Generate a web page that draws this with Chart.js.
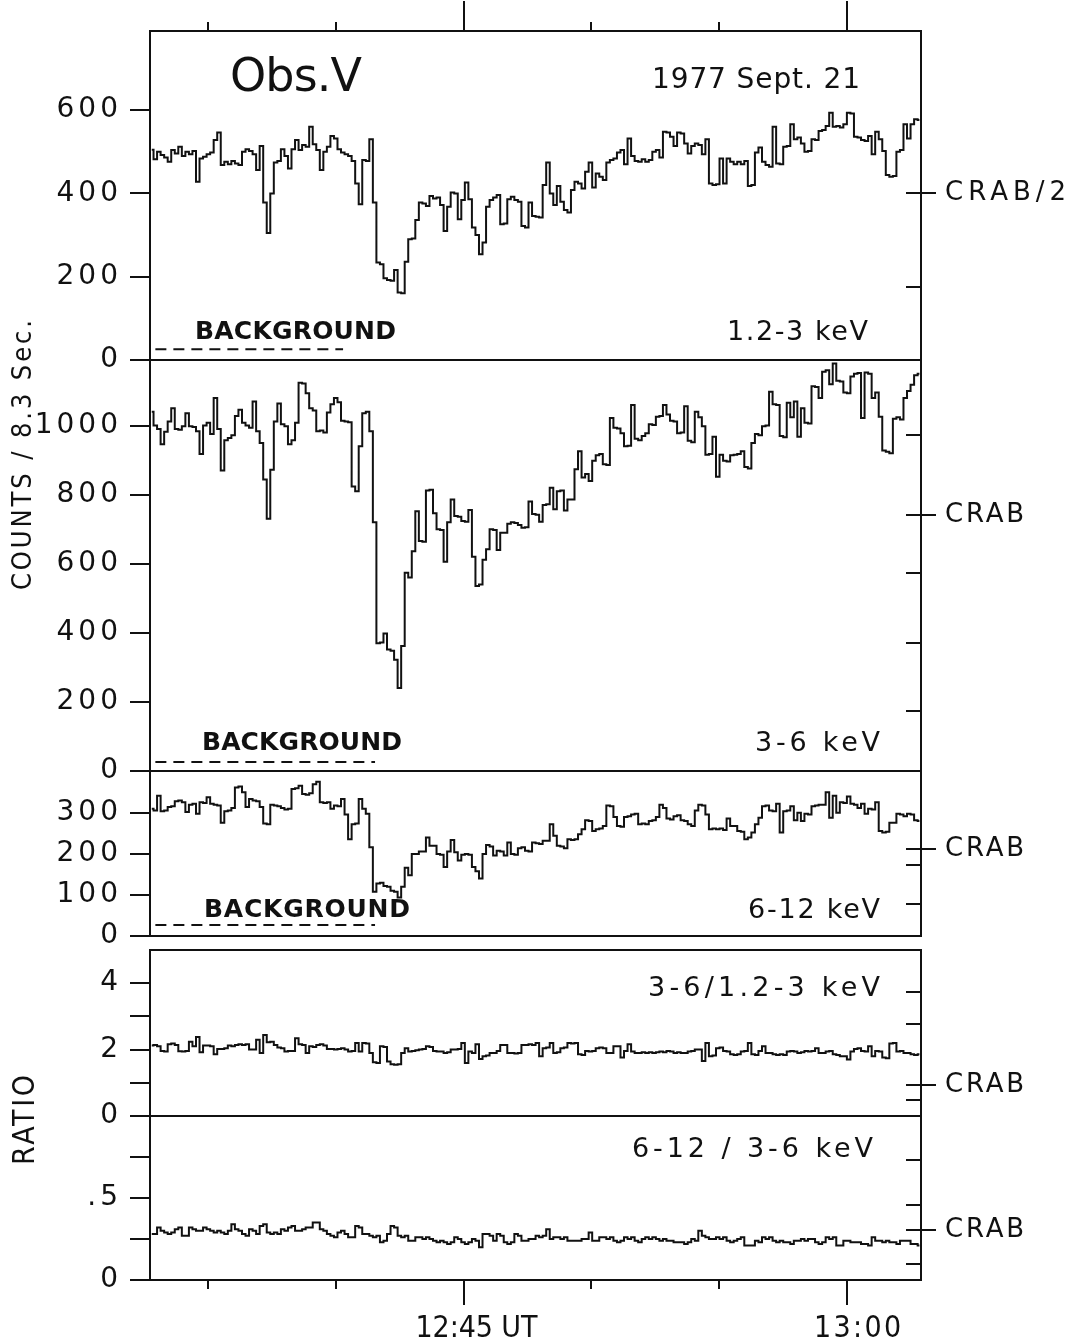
<!DOCTYPE html>
<html>
<head>
<meta charset="utf-8">
<script src="https://cdn.jsdelivr.net/npm/chart.js@4.4.1/dist/chart.umd.min.js"></script>
<style>
  html, body { margin: 0; background: #fff; }
  #wrap { position: relative; width: 1075px; height: 1341px; background: #fff; }
  #wrap canvas { position: absolute; left: 0; top: 0; }
</style>
</head>
<body>
<div id="wrap">
  <canvas id="p1" width="1075" height="1341"></canvas>
  <canvas id="p2" width="1075" height="1341"></canvas>
  <canvas id="p3" width="1075" height="1341"></canvas>
  <canvas id="p4" width="1075" height="1341"></canvas>
  <canvas id="p5" width="1075" height="1341"></canvas>
</div>
<script>
// time axis: minutes after 12:00 UT, one bin = 8.3 s
const X_MIN = 32.74, X_MAX = 62.89;
const BIN_MIN = 8.3 / 60;
const timeTicks = [35, 40, 45, 50, 55, 60];
const timeLabels = ['', '', '12:45 UT', '', '', '13:00'];

// counts / 8.3 s, 1.2-3 keV
const counts12 = [
  505,482,500,492,486,476,504,496,512,490, 500,494,502,428,484,488,494,498,528,546,
  468,476,470,478,472,468,500,506,502,494, 456,514,378,305,400,474,478,506,490,460,
  506,528,504,516,512,560,518,504,456,500, 512,538,532,506,498,494,490,478,424,374,
  480,478,530,378,234,230,196,192,190,216, 162,160,236,290,292,336,378,376,370,394,
  388,390,372,310,368,402,400,338,384,426, 386,318,300,254,282,368,384,390,396,326,
  328,386,392,384,380,322,318,378,346,344, 342,420,474,400,372,418,380,360,354,408,
  428,424,412,452,474,414,448,440,432,474, 480,484,498,504,470,532,490,478,476,482,
  476,480,500,504,486,548,546,536,514,546, 544,520,496,514,520,516,494,530,424,420,
  422,484,424,484,476,470,476,470,478,418, 420,498,510,476,468,464,560,472,470,512,
  514,566,530,534,520,500,502,530,528,550, 552,562,594,560,562,558,566,594,592,536,
  534,528,526,538,494,548,530,502,444,440, 442,500,504,566,532,566,578,576
];
// 3-6 keV
const counts36 = [
  1040,1000,990,946,982,1012,1050,990,988,998, 1036,998,996,984,918,1000,1008,976,1080,990,
  870,958,964,972,1028,1046,1008,1000,994,1070, 984,950,844,730,872,1012,1064,1004,998,946,
  958,1008,1124,1122,1094,1050,1044,984,986,980, 1038,1062,1080,1068,1014,1012,1010,824,810,940,
  1036,1040,984,720,370,372,398,352,348,322, 240,362,574,560,636,752,666,664,812,814,
  746,700,698,606,720,786,738,736,724,722, 756,620,536,540,612,642,700,698,640,690,
  690,716,720,718,712,704,706,780,744,742, 722,770,772,820,758,810,812,754,786,786,
  874,926,850,860,840,898,914,918,888,886, 1022,994,992,978,940,942,1060,962,958,970,
  978,1004,1002,1026,1028,1060,1032,1014,1012,978, 980,1056,956,952,1040,1024,998,916,918,968,
  852,916,898,896,914,916,918,926,880,876, 950,976,972,998,1000,1098,1062,1060,970,966,
  1066,1024,1070,968,1050,1008,1006,1114,1112,1080, 1156,1160,1120,1180,1130,1128,1096,1094,1142,1150,
  1152,1022,1154,1150,1080,1096,1026,928,924,920, 1020,1024,1018,1080,1100,1118,1146,1150
];
// 6-12 keV
const counts612 = [
  310,306,342,304,306,314,316,328,330,326, 302,320,322,298,326,324,338,322,320,318,
  276,304,306,312,362,364,350,314,334,330, 328,314,274,272,320,318,316,312,308,310,
  358,360,366,346,344,348,370,376,326,324, 326,310,318,316,334,296,236,272,274,334,
  310,298,216,108,128,130,122,120,110,108, 94,120,166,148,200,200,206,206,240,220,
  220,200,198,168,206,234,204,184,198,200, 198,168,158,140,200,222,218,196,208,206,
  196,228,200,198,214,216,208,206,228,226, 224,232,232,272,244,220,218,214,236,234,
  236,248,260,282,280,256,260,262,268,318, 316,290,268,266,290,292,296,298,272,274,
  272,280,282,290,320,312,286,284,292,294, 282,280,272,268,306,320,318,296,260,262,
  260,262,258,286,268,268,256,254,236,240, 252,272,288,316,318,306,304,322,252,304,
  306,316,282,300,280,298,296,316,318,320, 320,350,288,342,300,326,324,340,322,320,
  312,322,298,310,308,326,256,252,254,276, 276,298,296,292,298,296,282,280
];
// ratio 3-6 / 1.2-3 keV
const ratioA = [
  2.12,2.14,2.10,1.96,1.94,2.16,2.18,2.14,1.95,1.94, 1.96,2.24,2.10,2.38,1.92,2.12,2.12,2.10,1.86,2.02,
  2.02,2.04,2.12,2.10,2.14,2.16,2.14,2.16,2.00,2.00, 2.30,1.90,2.44,2.22,2.24,2.14,2.06,2.04,1.94,1.96,
  1.96,2.34,2.16,2.14,1.90,2.10,2.08,2.14,2.16,2.12, 2.02,2.02,2.00,2.02,2.04,2.00,1.94,1.96,2.20,1.94,
  2.20,2.18,1.90,1.62,1.60,2.10,2.08,1.64,1.56,1.54, 1.56,1.90,2.04,1.94,1.96,1.98,2.00,2.02,2.10,2.08,
  1.96,1.94,1.94,1.90,1.92,2.00,2.00,2.02,2.20,1.60, 1.94,1.90,2.16,1.72,1.80,1.82,1.90,1.90,1.96,2.14,
  2.14,1.90,1.90,1.88,1.90,2.14,2.14,2.16,2.14,2.20, 1.80,2.04,2.06,2.20,1.90,1.92,2.04,2.06,2.20,2.18,
  2.20,1.86,1.84,1.96,1.94,1.96,2.04,2.06,2.04,1.90, 1.90,2.10,2.10,1.76,1.96,2.16,1.94,1.90,1.90,1.92,
  1.90,1.92,1.90,1.92,1.94,1.92,1.96,1.94,1.90,1.92, 1.90,1.90,1.94,1.96,2.00,2.00,1.66,2.20,1.80,1.82,
  2.04,2.06,1.96,1.94,1.86,1.84,1.86,1.94,1.96,2.20, 1.86,1.84,1.96,2.10,1.90,1.90,1.86,1.84,1.86,1.84,
  1.94,1.96,1.94,1.90,1.92,1.96,1.94,1.96,2.04,1.90, 1.90,1.94,1.96,1.86,1.84,1.80,1.80,1.70,1.94,2.02,
  2.04,1.96,1.94,2.10,1.80,1.96,1.94,1.76,1.74,2.18, 2.20,1.94,1.96,1.90,1.90,1.86,1.84,1.86
];
// ratio 6-12 / 3-6 keV
const ratioB = [
  0.28,0.28,0.32,0.30,0.29,0.28,0.29,0.31,0.32,0.27, 0.27,0.32,0.31,0.30,0.30,0.32,0.31,0.30,0.29,0.30,
  0.29,0.28,0.30,0.34,0.31,0.30,0.28,0.27,0.31,0.30, 0.28,0.33,0.34,0.29,0.28,0.29,0.28,0.31,0.30,0.32,
  0.33,0.30,0.30,0.31,0.32,0.32,0.35,0.35,0.31,0.30, 0.28,0.27,0.26,0.29,0.30,0.28,0.26,0.26,0.33,0.32,
  0.28,0.28,0.27,0.26,0.27,0.23,0.24,0.28,0.33,0.32, 0.27,0.26,0.27,0.24,0.24,0.26,0.26,0.25,0.26,0.25,
  0.24,0.23,0.24,0.23,0.22,0.23,0.26,0.25,0.23,0.22, 0.23,0.25,0.24,0.20,0.28,0.28,0.27,0.24,0.28,0.27,
  0.23,0.22,0.23,0.28,0.27,0.24,0.24,0.25,0.25,0.27, 0.26,0.27,0.31,0.25,0.26,0.26,0.25,0.26,0.24,0.24,
  0.24,0.24,0.25,0.25,0.29,0.24,0.24,0.26,0.26,0.25, 0.26,0.24,0.23,0.24,0.26,0.25,0.26,0.24,0.23,0.25,
  0.26,0.25,0.26,0.25,0.24,0.25,0.24,0.24,0.23,0.23, 0.23,0.22,0.23,0.25,0.24,0.30,0.27,0.26,0.25,0.25,
  0.26,0.25,0.26,0.24,0.23,0.24,0.25,0.26,0.21,0.21, 0.21,0.24,0.23,0.26,0.25,0.26,0.24,0.23,0.24,0.23,
  0.23,0.22,0.24,0.24,0.25,0.24,0.25,0.25,0.23,0.22, 0.23,0.26,0.25,0.26,0.21,0.21,0.24,0.24,0.23,0.23,
  0.23,0.22,0.22,0.21,0.26,0.24,0.24,0.23,0.24,0.23, 0.23,0.22,0.24,0.24,0.24,0.22,0.22,0.21
];

// background levels (dashed) for the three count panels
const bgStart = [32.95, 32.95, 32.95];
const bgEnd = [40.29, 41.54, 41.54];
const bgLevel = [26, 26, 27];

// left axis ticks
const yTicks1 = [0, 200, 400, 600];
const yTicks2 = [0, 200, 400, 600, 800, 1000];
const yTicks3 = [0, 100, 200, 300];
const yTicks4 = [0, 1, 2, 3, 4];
const yLabels4 = ['0', '', '2', '', '4'];
const yTicks5 = [0, 0.25, 0.5, 0.75];
const yLabels5 = ['0', '', '.5', ''];

// right (Crab scale) inner ticks and Crab levels
const rTicks1 = [176];
const rTicks2 = [174, 371, 574, 974];
const rTicks3 = [78, 173];
const rTicks4 = [0.48, 2.76, 3.73];
const rTicks5 = [0.10, 0.46, 0.73];
const crabLevel = [400, 742, 212, 0.94, 0.305];
const crabText = ['CRAB/2', 'CRAB', 'CRAB', 'CRAB', 'CRAB'];

const binTimes = counts12.map((_, i) => X_MIN + (i + 0.5) * BIN_MIN);

const INK = '#111';
const FONT = "'DejaVu Sans', sans-serif";
const NARROW = "'DejaVu Sans Condensed', 'Liberation Sans Narrow', 'DejaVu Sans', sans-serif";

function spaced(ctx, text, x, y, size, width, opt) {
  opt = opt || {};
  ctx.save();
  ctx.font = (opt.bold ? 'bold ' : '') + size + 'px ' + (opt.family || FONT);
  ctx.letterSpacing = '0px';
  const w = ctx.measureText(text).width;
  const sp = text.length > 1 ? (width - w) / (text.length - 1) : 0;
  ctx.letterSpacing = sp + 'px';
  ctx.fillStyle = INK;
  ctx.textAlign = 'left';
  ctx.textBaseline = opt.baseline || 'alphabetic';
  if (opt.rotate) {
    ctx.translate(x, y);
    ctx.rotate(-Math.PI / 2);
    ctx.fillText(text, -width / 2, 0);
  } else {
    ctx.fillText(text, x, y);
  }
  ctx.restore();
}

const panels = [
  { id: 'p1', values: counts12, min: 0, max: 790, top: 31, bottom: 360, ticks: yTicks1, labels: yTicks1.map(String),
    right: rTicks1, bg: 0, texts: [
      { text: 'BACKGROUND', x: 195, y: 339, size: 25, w: 201, bold: true },
      { text: '1.2-3 keV', x: 727, y: 340, size: 27, w: 141 } ] },
  { id: 'p2', values: counts36, min: 0, max: 1190, top: 360, bottom: 771, ticks: yTicks2, labels: yTicks2.map(String),
    right: rTicks2, bg: 1, texts: [
      { text: 'BACKGROUND', x: 202, y: 750, size: 25, w: 200, bold: true },
      { text: '3-6 keV', x: 755, y: 751, size: 27, w: 125 } ] },
  { id: 'p3', values: counts612, min: 0, max: 402, top: 771, bottom: 936, ticks: yTicks3, labels: yTicks3.map(String),
    right: rTicks3, bg: 2, texts: [
      { text: 'BACKGROUND', x: 204, y: 917, size: 25, w: 206, bold: true },
      { text: '6-12 keV', x: 748, y: 918, size: 27, w: 132 } ] },
  { id: 'p4', values: ratioA, min: 0, max: 5, top: 950, bottom: 1116, ticks: yTicks4, labels: yLabels4,
    right: rTicks4, bg: -1, texts: [
      { text: '3-6/1.2-3 keV', x: 648, y: 996, size: 27, w: 232 } ] },
  { id: 'p5', values: ratioB, min: 0, max: 1, top: 1116, bottom: 1280, ticks: yTicks5, labels: yLabels5,
    right: rTicks5, bg: -1, texts: [
      { text: '6-12 / 3-6 keV', x: 632, y: 1157, size: 27, w: 241 } ] }
];

panels.forEach((p, k) => {
  const isTop = k === 0;
  const isBottom = k === panels.length - 1;
  const datasets = [{
    data: p.values.map((v, i) => ({ x: binTimes[i], y: v })),
    stepped: 'middle', borderColor: INK, borderWidth: 2, pointRadius: 0, fill: false
  }];
  if (p.bg >= 0) {
    datasets.push({
      data: [{ x: bgStart[p.bg], y: bgLevel[p.bg] }, { x: bgEnd[p.bg], y: bgLevel[p.bg] }],
      borderColor: INK, borderWidth: 2, borderDash: [11, 7], pointRadius: 0, fill: false
    });
  }

  const deco = {
    id: 'deco' + k,
    beforeDraw(chart) { chart.ctx.letterSpacing = '4px'; },
    afterDraw(chart) {
      const ctx = chart.ctx;
      const a = chart.chartArea;
      const ys = chart.scales.y, xs = chart.scales.x;
      ctx.save();
      ctx.letterSpacing = '0px';
      ctx.strokeStyle = INK;
      ctx.lineWidth = 2;
      ctx.strokeRect(a.left, a.top, a.right - a.left, a.bottom - a.top);
      ctx.beginPath();
      // inner ticks on the right (Crab scale)
      p.right.forEach(v => {
        const y = Math.round(ys.getPixelForValue(v));
        ctx.moveTo(a.right - 15, y); ctx.lineTo(a.right, y);
      });
      // Crab marker, crossing the frame
      const cy = Math.round(ys.getPixelForValue(crabLevel[k]));
      ctx.moveTo(a.right - 15, cy); ctx.lineTo(a.right + 15, cy);
      // time ticks on the top and bottom frames
      timeTicks.forEach((t, i) => {
        const x = Math.round(xs.getPixelForValue(t));
        const major = timeLabels[i] !== '';
        if (isTop) { ctx.moveTo(x, a.top); ctx.lineTo(x, a.top - (major ? 30 : 9)); }
        if (isBottom) { ctx.moveTo(x, a.bottom); ctx.lineTo(x, a.bottom + (major ? 25 : 9)); }
      });
      ctx.stroke();
      ctx.restore();

      spaced(ctx, crabText[k], a.right + 24, cy, 26, crabText[k] === 'CRAB' ? 79 : 121, { baseline: 'middle' });
      p.texts.forEach(t => spaced(ctx, t.text, t.x, t.y, t.size, t.w, { bold: t.bold }));

      if (isTop) {
        spaced(ctx, 'Obs.V', 230, 91, 46, 132);
        spaced(ctx, '1977 Sept. 21', 652, 88, 28, 208);
      }
      if (isBottom) {
        timeTicks.forEach((t, i) => {
          if (!timeLabels[i]) return;
          const x = xs.getPixelForValue(t);
          const long = timeLabels[i].length > 5;
          spaced(ctx, timeLabels[i], x - (long ? 48 : 33), 1337, 30, long ? 122 : 87, { family: NARROW });
        });
        spaced(ctx, 'COUNTS / 8.3 Sec.', 31, 455, 27, 270, { family: NARROW, rotate: true });
        spaced(ctx, 'RATIO', 34, 1120, 30, 90, { family: NARROW, rotate: true });
      }
    }
  };

  new Chart(document.getElementById(p.id), {
    type: 'line',
    data: { datasets },
    options: {
      responsive: false,
      animation: false,
      events: [],
      devicePixelRatio: 1,
      layout: { padding: { left: 0, right: 1075 - 921, top: p.top, bottom: 1341 - p.bottom } },
      plugins: { legend: { display: false }, tooltip: { enabled: false } },
      scales: {
        x: { type: 'linear', min: X_MIN, max: X_MAX, display: false },
        y: {
          min: p.min, max: p.max,
          afterFit: s => { s.width = 150; },
          afterBuildTicks: s => { s.ticks = p.ticks.map(v => ({ value: v })); },
          ticks: {
            autoSkip: false, padding: 8, color: INK,
            font: { family: FONT, size: 28 },
            callback: (v, i) => p.labels[i]
          },
          grid: { drawOnChartArea: false, tickLength: 20, color: INK, lineWidth: 2 },
          border: { color: INK, width: 2 }
        }
      }
    },
    plugins: [deco]
  });
});
</script>
</body>
</html>
